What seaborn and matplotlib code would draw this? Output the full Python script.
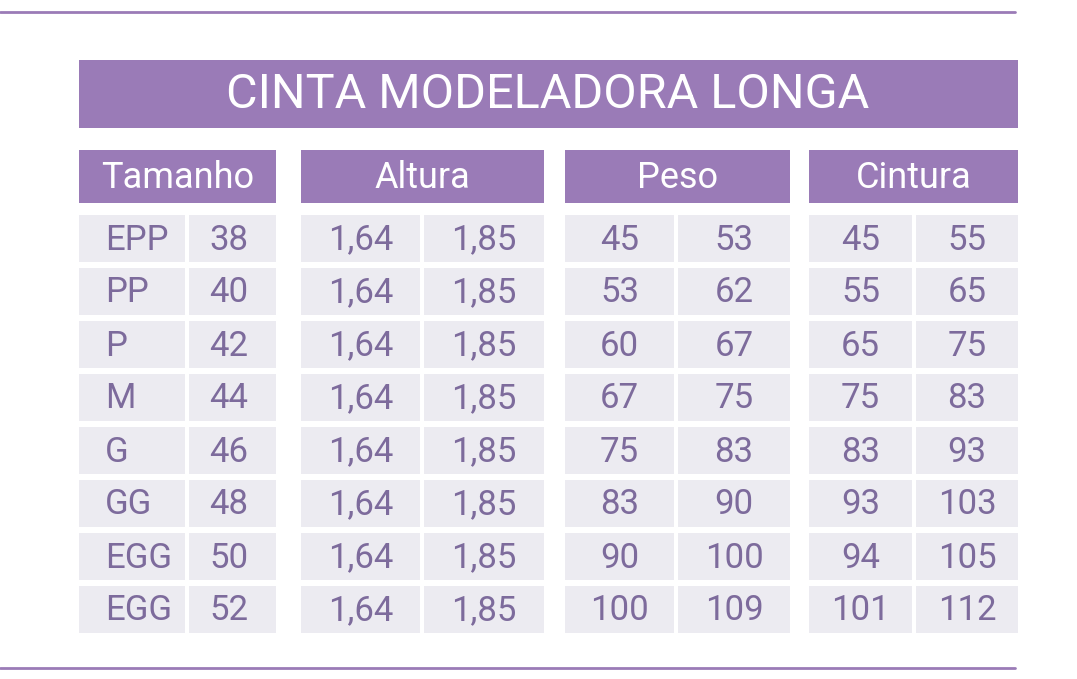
import matplotlib
matplotlib.use("Agg")
import matplotlib.pyplot as plt
import seaborn as sns
from matplotlib.patches import Rectangle

sns.set_theme(style="white")
plt.rcParams['font.family'] = ['Roboto', 'DejaVu Sans']

title = "CINTA MODELADORA LONGA"
headers = ["Tamanho", "Altura", "Peso", "Cintura"]
sizes = ["EPP", "PP", "P", "M", "G", "GG", "EGG", "EGG"]
numbers = ["38", "40", "42", "44", "46", "48", "50", "52"]
altura_min = ["1,64"] * 8
altura_max = ["1,85"] * 8
peso_min = ["45", "53", "60", "67", "75", "83", "90", "100"]
peso_max = ["53", "62", "67", "75", "83", "90", "100", "109"]
cintura_min = ["45", "55", "65", "75", "83", "93", "94", "101"]
cintura_max = ["55", "65", "75", "83", "93", "103", "105", "112"]

PURPLE = "#9a7bb7"
CELL = "#ecebf1"
TXT = "#7d6b9c"

fig = plt.figure(figsize=(10.77, 6.79), dpi=100)
ax = fig.add_axes([0, 0, 1, 1])
ax.set_xlim(0, 1077); ax.set_ylim(679, 0); ax.axis("off")

ax.plot([0, 1015], [12, 12], color=PURPLE, lw=2)
ax.plot([0, 1015], [668, 668], color=PURPLE, lw=2)

ax.add_patch(Rectangle((79, 60), 939, 68, color=PURPLE, lw=0))
ax.text(548, 95, title, color="white", fontsize=35, ha="center", va="center")

groups = [(79, 276), (301, 544), (565, 790), (809, 1018)]
splits = [(185, 189), (420, 424), (674, 678), (912, 916)]
for (x0, x1), h in zip(groups, headers):
    ax.add_patch(Rectangle((x0, 150), x1 - x0, 53, color=PURPLE, lw=0))
    ax.text((x0 + x1) / 2, 178, h, color="white", fontsize=26, ha="center", va="center")

cols = [(sizes, numbers), (altura_min, altura_max), (peso_min, peso_max), (cintura_min, cintura_max)]
for i in range(8):
    y0 = 215 + 53 * i
    for g, ((x0, x1), (s0, s1), (a, b)) in enumerate(zip(groups, splits, cols)):
        ax.add_patch(Rectangle((x0, y0), s0 - x0, 47, color=CELL, lw=0))
        ax.add_patch(Rectangle((s1, y0), x1 - s1, 47, color=CELL, lw=0))
        if g == 0:
            ax.text(x0 + 26, y0 + 25, a[i], color=TXT, fontsize=25, ha="left", va="center")
            ax.text(s1 + 20, y0 + 25, b[i], color=TXT, fontsize=25, ha="left", va="center")
        else:
            ax.text((x0 + s0) / 2, y0 + 25, a[i], color=TXT, fontsize=25, ha="center", va="center")
            ax.text((s1 + x1) / 2, y0 + 25, b[i], color=TXT, fontsize=25, ha="center", va="center")

fig.savefig("out.png", dpi=100, facecolor="white")
